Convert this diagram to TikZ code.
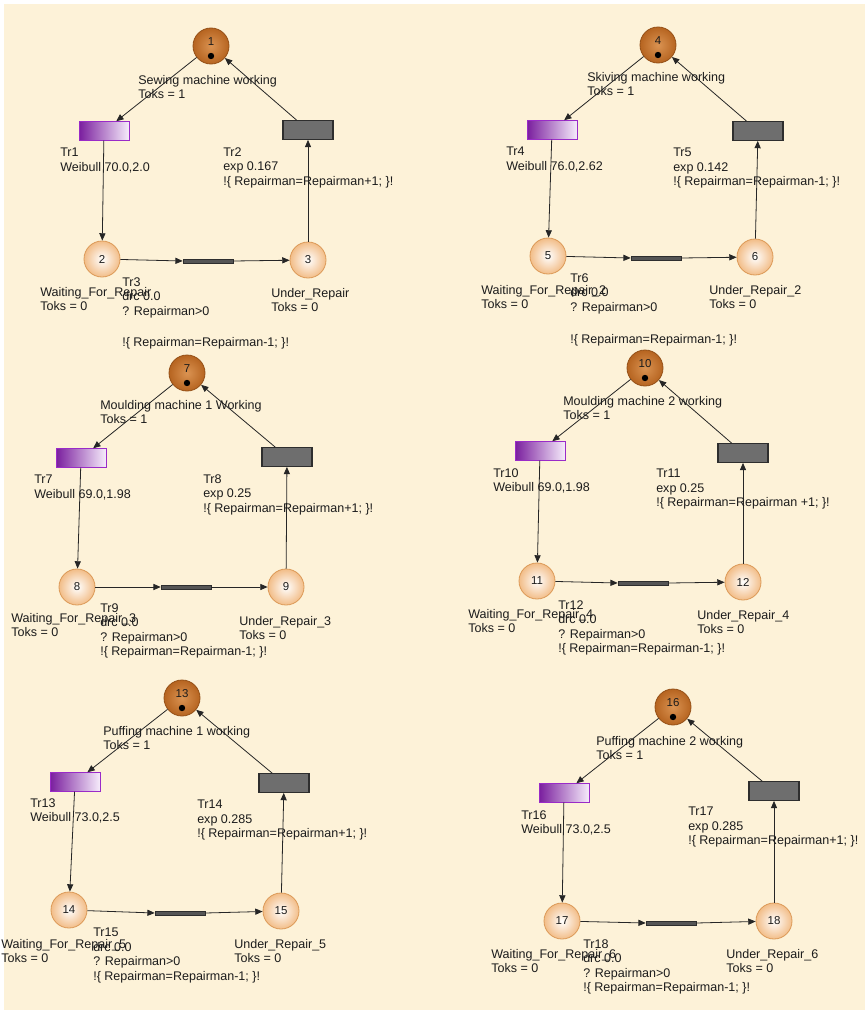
\documentclass[tikz,border=0pt]{standalone}
\usepackage{fontspec}
\setmainfont{Liberation Sans}
\usetikzlibrary{arrows.meta}
\definecolor{bgc}{HTML}{FDF2D8}
\definecolor{plout}{HTML}{F2BD88}
\definecolor{pldraw}{HTML}{DC9A58}
\definecolor{mkin}{HTML}{DA9352}
\definecolor{mkout}{HTML}{B66420}
\definecolor{mkdraw}{HTML}{955017}
\definecolor{purl}{HTML}{7A1E9E}
\definecolor{purr}{HTML}{F6ECFB}
\definecolor{purd}{HTML}{9A2BC8}
\definecolor{grf}{HTML}{6E6E6E}
\definecolor{grd}{HTML}{2E2E2E}
\definecolor{barf}{HTML}{555555}
\definecolor{txt}{HTML}{1C1C1C}
\tikzset{
  place/.style={circle, draw=pldraw, line width=0.6pt, minimum size=27pt, inner sep=0pt, inner color=white, outer color=plout},
  mplace/.style={circle, draw=mkdraw, line width=0.6pt, minimum size=27pt, inner sep=0pt, inner color=mkin, outer color=mkout},
  num/.style={inner sep=0pt, font=\fontsize{8.6}{9}\selectfont, text=txt},
  tweib/.style={rectangle, minimum width=37.5pt, minimum height=14pt, inner sep=0pt, left color=purl, right color=purr, draw=purd, line width=0.6pt},
  texp/.style={rectangle, minimum width=37.5pt, minimum height=14pt, inner sep=0pt, fill=grf, draw=grd, line width=0.8pt},
  tbar/.style={rectangle, minimum width=37.5pt, minimum height=3pt, inner sep=0pt, fill=barf, draw=grd, line width=0.4pt},
  lbl/.style={anchor=north west, align=left, inner sep=0pt, text=txt, font=\fontsize{9.4}{10.9}\selectfont},
  arr/.style={-{Triangle[length=5.5pt,width=4.6pt]}, line width=0.6pt, draw=black!85},
  tok/.style={fill=black}
}
\begin{document}
\begin{tikzpicture}[x=0.75pt,y=-0.75pt]
\useasboundingbox (0,0) rectangle (865,1010);
\fill[white] (0,0) rectangle (865,1010);
\fill[bgc] (4,4) rectangle (865,1010);

% ---------------- Panel 1 ----------------
\node[mplace] (p1) at (211,46) {};
\node[num] (n1) at (211,42) {1};
\fill[tok] (211,56) circle (2.4pt);
\node[tweib] (t1) at (104,131) {};
\node[texp] (t2) at (308,130) {};
\node[place] (p2) at (102,259) {};
\node[num] (n2) at (102,259) {2};
\node[place] (p3) at (308,260) {};
\node[num] (n3) at (308,260) {3};
\node[tbar] (t3) at (208,261) {};
\draw[arr] (p1) -- (t1);
\draw[arr] (t1) -- (p2);
\draw[arr] (p2) -- (t3.west);
\draw[arr] (t3.east) -- (p3);
\draw[arr] (p3) -- (t2);
\draw[arr] (t2) -- (p1);
\node[lbl] (l1) at (138,75) {Sewing machine working\\Toks = 1};
\node[lbl] (lt1) at (60,148) {Tr1\\Weibull 70.0,2.0};
\node[lbl] (lt2) at (223,147) {Tr2\\exp 0.167\\!\{ Repairman=Repairman+1; \}!};
\node[lbl] (lp2) at (40,287) {Waiting\_For\_Repair\\Toks = 0};
\node[lbl] (lt3) at (122,277) {Tr3\\drc 0.0\\? Repairman>0};
\node[lbl] (lt3b) at (122,337) {!\{ Repairman=Repairman-1; \}!};
\node[lbl] (lp3) at (271,288) {Under\_Repair\\Toks = 0};

% ---------------- Panel 2 ----------------
\node[mplace] (p4) at (658,45) {};
\node[num] (n4) at (658,41) {4};
\fill[tok] (658,55) circle (2.4pt);
\node[tweib] (t4) at (552,130) {};
\node[texp] (t5) at (758,131) {};
\node[place] (p5) at (548,256) {};
\node[num] (n5) at (548,256) {5};
\node[place] (p6) at (755,257) {};
\node[num] (n6) at (755,257) {6};
\node[tbar] (t6) at (656,258) {};
\draw[arr] (p4) -- (t4);
\draw[arr] (t4) -- (p5);
\draw[arr] (p5) -- (t6.west);
\draw[arr] (t6.east) -- (p6);
\draw[arr] (p6) -- (t5);
\draw[arr] (t5) -- (p4);
\node[lbl] (l4) at (587,72) {Skiving machine working\\Toks = 1};
\node[lbl] (lt4) at (506,147) {Tr4\\Weibull 76.0,2.62};
\node[lbl] (lt5) at (673,148) {Tr5\\exp 0.142\\!\{ Repairman=Repairman-1; \}!};
\node[lbl] (lp5) at (481,285) {Waiting\_For\_Repair\_2\\Toks = 0};
\node[lbl] (lt6) at (570,273) {Tr6\\drc 0.0\\? Repairman>0};
\node[lbl] (lt6b) at (570,334) {!\{ Repairman=Repairman-1; \}!};
\node[lbl] (lp6) at (709,285) {Under\_Repair\_2\\Toks = 0};

% ---------------- Panel 3 ----------------
\node[mplace] (p7) at (187,373) {};
\node[num] (n7) at (187,369) {7};
\fill[tok] (187,383) circle (2.4pt);
\node[tweib] (t7) at (81,458) {};
\node[texp] (t8) at (287,457) {};
\node[place] (p8) at (77,587) {};
\node[num] (n8) at (77,587) {8};
\node[place] (p9) at (286,587) {};
\node[num] (n9) at (286,587) {9};
\node[tbar] (t9) at (186,587) {};
\draw[arr] (p7) -- (t7);
\draw[arr] (t7) -- (p8);
\draw[arr] (p8) -- (t9.west);
\draw[arr] (t9.east) -- (p9);
\draw[arr] (p9) -- (t8);
\draw[arr] (t8) -- (p7);
\node[lbl] (l7) at (100,400) {Moulding machine 1 Working\\Toks = 1};
\node[lbl] (lt7) at (34,475) {Tr7\\Weibull 69.0,1.98};
\node[lbl] (lt8) at (203,474) {Tr8\\exp 0.25\\!\{ Repairman=Repairman+1; \}!};
\node[lbl] (lp8) at (11,613) {Waiting\_For\_Repair\_3\\Toks = 0};
\node[lbl] (lt9) at (100,603) {Tr9\\drc 0.0\\? Repairman>0\\!\{ Repairman=Repairman-1; \}!};
\node[lbl] (lp9) at (239,616) {Under\_Repair\_3\\Toks = 0};

% ---------------- Panel 4 ----------------
\node[mplace] (p10) at (645,368) {};
\node[num] (n10) at (645,364) {10};
\fill[tok] (645,378) circle (2.4pt);
\node[tweib] (t10) at (540,451) {};
\node[texp] (t11) at (743,453) {};
\node[place] (p11) at (537,581) {};
\node[num] (n11) at (537,581) {11};
\node[place] (p12) at (743,582) {};
\node[num] (n12) at (743,582) {12};
\node[tbar] (t12) at (643,583) {};
\draw[arr] (p10) -- (t10);
\draw[arr] (t10) -- (p11);
\draw[arr] (p11) -- (t12.west);
\draw[arr] (t12.east) -- (p12);
\draw[arr] (p12) -- (t11);
\draw[arr] (t11) -- (p10);
\node[lbl] (l10) at (563,396) {Moulding machine 2 working\\Toks = 1};
\node[lbl] (lt10) at (493,468) {Tr10\\Weibull 69.0,1.98};
\node[lbl] (lt11) at (656,469) {Tr11\\exp 0.25\\!\{ Repairman=Repairman +1; \}!};
\node[lbl] (lp11) at (468,609) {Waiting\_For\_Repair\_4\\Toks = 0};
\node[lbl] (lt12) at (558,600) {Tr12\\drc 0.0\\? Repairman>0\\!\{ Repairman=Repairman-1; \}!};
\node[lbl] (lp12) at (697,610) {Under\_Repair\_4\\Toks = 0};

% ---------------- Panel 5 ----------------
\node[mplace] (p13) at (182,698) {};
\node[num] (n13) at (182,694) {13};
\fill[tok] (182,708) circle (2.4pt);
\node[tweib] (t13) at (75,782) {};
\node[texp] (t14) at (284,783) {};
\node[place] (p14) at (69,910) {};
\node[num] (n14) at (69,910) {14};
\node[place] (p15) at (281,911) {};
\node[num] (n15) at (281,911) {15};
\node[tbar] (t15) at (180,913) {};
\draw[arr] (p13) -- (t13);
\draw[arr] (t13) -- (p14);
\draw[arr] (p14) -- (t15.west);
\draw[arr] (t15.east) -- (p15);
\draw[arr] (p15) -- (t14);
\draw[arr] (t14) -- (p13);
\node[lbl] (l13) at (103,726) {Puffing machine 1 working\\Toks = 1};
\node[lbl] (lt13) at (30,798) {Tr13\\Weibull 73.0,2.5};
\node[lbl] (lt14) at (197,800) {Tr14\\exp 0.285\\!\{ Repairman=Repairman+1; \}!};
\node[lbl] (lp14) at (1,939) {Waiting\_For\_Repair\_5\\Toks = 0};
\node[lbl] (lt15) at (93,928) {Tr15\\drc 0.0\\? Repairman>0\\!\{ Repairman=Repairman-1; \}!};
\node[lbl] (lp15) at (234,939) {Under\_Repair\_5\\Toks = 0};

% ---------------- Panel 6 ----------------
\node[mplace] (p16) at (673,707) {};
\node[num] (n16) at (673,703) {16};
\fill[tok] (673,717) circle (2.4pt);
\node[tweib] (t16) at (564,793) {};
\node[texp] (t17) at (774,791) {};
\node[place] (p17) at (562,921) {};
\node[num] (n17) at (562,921) {17};
\node[place] (p18) at (774,921) {};
\node[num] (n18) at (774,921) {18};
\node[tbar] (t18) at (671,923) {};
\draw[arr] (p16) -- (t16);
\draw[arr] (t16) -- (p17);
\draw[arr] (p17) -- (t18.west);
\draw[arr] (t18.east) -- (p18);
\draw[arr] (p18) -- (t17);
\draw[arr] (t17) -- (p16);
\node[lbl] (l16) at (596,736) {Puffing machine 2 working\\Toks = 1};
\node[lbl] (lt16) at (521,810) {Tr16\\Weibull 73.0,2.5};
\node[lbl] (lt17) at (688,807) {Tr17\\exp 0.285\\!\{ Repairman=Repairman+1; \}!};
\node[lbl] (lp17) at (491,949) {Waiting\_For\_Repair\_6\\Toks = 0};
\node[lbl] (lt18) at (583,939) {Tr18\\drc 0.0\\? Repairman>0\\!\{ Repairman=Repairman-1; \}!};
\node[lbl] (lp18) at (726,949) {Under\_Repair\_6\\Toks = 0};
\end{tikzpicture}
\end{document}
